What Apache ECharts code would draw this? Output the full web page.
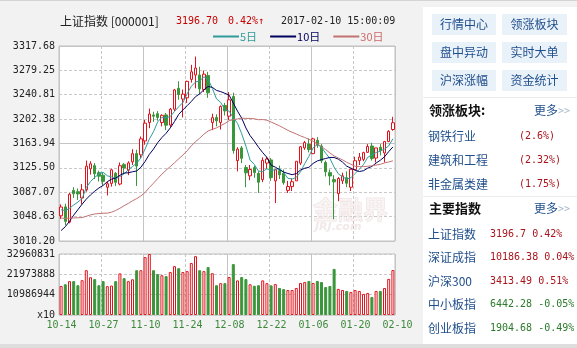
<!DOCTYPE html>
<html><head><meta charset="utf-8">
<script src="https://cdn.jsdelivr.net/npm/echarts/dist/echarts.min.js"></script>
<style>html,body{margin:0;padding:0;background:#f2f2f2}#c{width:577px;height:348px}</style>
</head><body><div id="c"></div>
<script>
const dates = ['2016-10-14','2016-10-17','2016-10-18','2016-10-19','2016-10-20','2016-10-21','2016-10-24','2016-10-25','2016-10-26','2016-10-27','2016-10-28','2016-10-31',
'2016-11-01','2016-11-02','2016-11-03','2016-11-04','2016-11-07','2016-11-08','2016-11-09','2016-11-10','2016-11-11','2016-11-14','2016-11-15','2016-11-16','2016-11-17','2016-11-18','2016-11-21','2016-11-22','2016-11-23','2016-11-24','2016-11-25','2016-11-28','2016-11-29','2016-11-30',
'2016-12-01','2016-12-02','2016-12-05','2016-12-06','2016-12-07','2016-12-08','2016-12-09','2016-12-12','2016-12-13','2016-12-14','2016-12-15','2016-12-16','2016-12-19','2016-12-20','2016-12-21','2016-12-22','2016-12-23','2016-12-26','2016-12-27','2016-12-28','2016-12-29','2016-12-30',
'2017-01-03','2017-01-04','2017-01-05','2017-01-06','2017-01-09','2017-01-10','2017-01-11','2017-01-12','2017-01-13','2017-01-16','2017-01-17','2017-01-18','2017-01-19','2017-01-20','2017-01-23','2017-01-24','2017-01-25','2017-01-26',
'2017-02-03','2017-02-06','2017-02-07','2017-02-08','2017-02-09','2017-02-10'];

const opens = [3050,3064,3040,3090,3088,3078,3091,3124,3129,3118,3114,3095,3101,3117,3100,3131,3122,3135,3148,3146,
3168,3197,3209,3211,3197,3209,3193,3218,3251,3234,3236,3265,3272,3272,3249,3271,3197,3205,3197,3224,
3207,3238,3137,3157,3126,3113,3126,3117,3107,3133,3138,3105,3121,3117,3090,3096,3105,3133,3157,3163,
3148,3169,3160,3134,3118,3107,3085,3105,3110,3095,3123,3137,3139,3150,3160,3141,3158,3149,3167,3186];
const closes = [3063.81,3041.17,3083.88,3084.72,3084.46,3090.94,3128.25,3131.94,3116.31,3112.35,3104.27,3100.49,3122.44,3102.72,3128.94,3125.32,3133.33,3147.89,3128.37,3171.28,
3196.04,3210.37,3206.99,3205.06,3208.45,3192.86,3218.15,3248.35,3241.14,3241.74,3261.94,3277.00,3282.92,3250.03,3273.31,3243.84,3204.71,3199.65,3222.24,3215.37,
3232.88,3152.97,3155.04,3140.53,3117.68,3122.98,3118.08,3102.88,3137.43,3139.56,3110.15,3122.57,3114.66,3102.24,3096.10,3103.64,3135.92,3158.79,3165.41,3154.32,
3171.24,3161.67,3136.75,3119.29,3112.76,3103.43,3108.77,3113.01,3101.30,3123.14,3136.77,3142.55,3149.55,3159.17,3140.17,3156.98,3153.09,3166.98,3183.18,3196.70];
const lows = [3045,3035,3038,3078,3075,3068,3088,3115,3108,3104,3098,3082,3096,3097,3098,3117,3114,3130,3097,3141,
3162,3188,3198,3200,3191,3185,3190,3215,3233,3205,3228,3260,3251,3242,3245,3236,3185,3191,3186,3208,
3201,3148,3120,3133,3095,3106,3110,3086,3103,3124,3105,3070,3108,3099,3086,3089,3105,3130,3154,3150,
3147,3157,3133,3112,3098,3044.5,3073,3100,3095,3089,3123,3130,3136,3149,3137,3134,3145,3134,3166,3184];
const highs = [3068,3069,3086,3095,3093,3100,3137,3136,3133,3121,3119,3104,3124,3119,3134,3133,3136,3155,3154,3175,
3201,3219,3214,3215,3210,3212,3220,3250,3262,3249,3263,3288,3301,3285,3279,3277,3211,3210,3224,3228,
3245,3244,3158,3160,3130,3130,3129,3120,3142,3143,3141,3124,3129,3123,3105,3109,3136,3160,3168,3172,
3173,3174,3163,3137,3123,3114,3111,3118,3120,3124,3143,3149,3151,3163,3165,3157,3163,3168,3185,3206];
const volumes = [15700000,16600000,18300000,18300000,16100000,18800000,24200000,20400000,19400000,16100000,18300000,15600000,15900000,18300000,22500000,19900000,18300000,19300000,24200000,24200000,
31300000,32960831,24200000,22100000,21500000,21000000,23200000,26400000,25300000,23200000,23700000,28100000,31800000,24200000,23700000,25900000,22600000,16100000,17200000,17200000,
20500000,27500000,18700000,20500000,19400000,16600000,15800000,16100000,18700000,17200000,16000000,16700000,14600000,14000000,13500000,13500000,14600000,17300000,17800000,18400000,
17300000,18400000,17800000,15100000,15700000,24900000,14100000,13500000,13000000,12400000,13500000,13000000,11400000,11900000,9700000,13000000,13000000,14600000,19500000,24300000];
const ma5 = [3059.41,3058.02,3061.74,3066.99,3071.61,3077.03,3094.45,3104.06,3110.38,3115.96,3118.62,3113.07,3111.17,3108.45,3111.77,3115.98,3122.55,3127.64,3132.77,3141.24,
3155.38,3170.79,3182.61,3197.95,3205.38,3204.75,3206.30,3214.57,3221.79,3228.45,3242.26,3254.03,3260.95,3262.73,3269.04,3265.42,3250.96,3234.31,3228.75,3217.16,
3214.97,3204.62,3195.70,3179.36,3159.82,3137.84,3130.86,3120.43,3119.81,3124.19,3121.62,3122.52,3124.87,3117.84,3109.14,3107.84,3110.51,3119.34,3131.97,3143.62,
3157.14,3162.29,3157.88,3148.65,3140.34,3126.78,3116.20,3111.45,3107.85,3109.93,3116.60,3123.35,3130.66,3142.24,3145.64,3149.68,3151.79,3155.28,3160.08,3171.39];
const ma10 = [3026.67,3032.74,3041.31,3051.00,3059.60,3068.22,3076.23,3082.90,3088.68,3093.78,3097.83,3103.76,3107.62,3109.42,3113.87,3117.30,3117.81,3119.41,3120.61,3126.51,
3135.68,3146.67,3155.13,3165.36,3173.31,3180.06,3188.55,3198.59,3209.87,3216.92,3223.51,3230.17,3237.76,3242.26,3248.74,3253.84,3252.50,3247.63,3245.74,3243.10,
3240.20,3227.79,3215.00,3204.05,3188.49,3176.41,3167.74,3158.07,3149.58,3142.00,3129.73,3126.69,3122.65,3118.82,3116.67,3114.73,3116.52,3122.11,3124.90,3126.38,
3132.49,3136.40,3138.61,3140.31,3141.98,3141.96,3139.24,3134.67,3128.25,3125.14,3121.69,3119.78,3121.06,3125.05,3127.79,3133.14,3137.57,3142.97,3151.16,3158.51];
const ma30 = [3046.51,3045.60,3046.05,3046.54,3046.87,3047.05,3049.22,3051.37,3052.84,3053.56,3053.98,3054.13,3055.58,3058.27,3061.79,3065.87,3069.44,3073.61,3077.02,3081.32,
3086.73,3094.39,3101.35,3108.59,3115.59,3121.86,3127.53,3133.63,3139.72,3145.73,3152.34,3160.20,3166.83,3172.34,3178.64,3183.74,3186.29,3188.54,3192.07,3195.51,
3199.79,3201.54,3202.63,3203.89,3203.52,3203.44,3202.93,3201.43,3201.73,3200.67,3197.81,3194.88,3191.81,3188.38,3184.63,3181.66,3178.92,3175.93,3173.41,3170.49,
3167.47,3163.63,3158.75,3154.40,3149.05,3144.36,3141.17,3138.28,3134.25,3131.17,3127.97,3127.62,3127.44,3128.06,3128.81,3129.94,3131.11,3133.25,3134.77,3136.68];

const yTicks = ['3010.20','3048.63','3087.07','3125.50','3163.94','3202.38','3240.81','3279.25','3317.68'];
const volTicks = ['x10','10986944','21973888','32960831'];
const xTicks = ['10-14','10-27','11-10','11-24','12-08','12-22','01-06','01-20','02-10'];

const panelButtons = [['行情中心','领涨板块'],['盘中异动','实时大单'],['沪深涨幅','资金统计']];
const sectorNames = ['钢铁行业','建筑和工程','非金属类建'];
const sectorPcts = ['(2.6%)','(2.32%)','(1.75%)'];
const indexNames = ['上证指数','深证成指','沪深300','中小板指','创业板指'];
const indexValues = ['3196.7 0.42%','10186.38 0.04%','3413.49 0.51%','6442.28 -0.05%','1904.68 -0.49%'];

const RED = '#e0141e', GREEN = '#3a963a';
const MONO = '"DejaVu Sans Mono", monospace';
const CJK = '"Noto Sans CJK SC", sans-serif';

const yMin = parseFloat(yTicks[0]), yMax = parseFloat(yTicks[yTicks.length-1]);
const yInt = (yMax - yMin) / (yTicks.length - 1);
const vMax = parseFloat(volTicks[volTicks.length-1]);
const vInt = vMax / (volTicks.length - 1);
const n = dates.length;

const kData = dates.map((d,i) => [opens[i], closes[i], lows[i], highs[i]]);
const volData = volumes.map((v,i) => {
  const up = closes[i] >= opens[i];
  return {value: v, itemStyle: up ? {color:'#ffffff', borderColor: RED, borderWidth: 1} : {color: GREEN, borderColor: GREEN, borderWidth: 1}};
});

const chart = echarts.init(document.getElementById('c'), null, {renderer:'canvas'});

const dashed = {show:true, lineStyle:{color:'#c8c8c8', type:[3,2], width:1}};
const solid = {show:true, lineStyle:{color:'#c4c4c4', type:'solid', width:1}};
const hiddenAxisBits = {axisLine:{show:false}, axisTick:{show:false}};

const els = [];
els.push({type:'rect', shape:{x:0,y:0,width:577,height:1}, style:{fill:'#d4d4d4'}, silent:true});
els.push({type:'rect', shape:{x:0,y:344,width:577,height:4}, style:{fill:'#dedede'}, silent:true});
els.push({type:'text', x:60, y:21, style:{text:'上证指数 [000001]', fill:'#222', font:'12px '+CJK, textVerticalAlign:'middle'}});
els.push({type:'text', x:176, y:21, style:{text:'3196.70', fill:'#c40000', font:'10px '+MONO, textVerticalAlign:'middle'}});
els.push({type:'text', x:228, y:21, style:{text:'0.42%↑', fill:'#c40000', font:'10px '+MONO, textVerticalAlign:'middle'}});
els.push({type:'text', x:281, y:21, style:{text:'2017-02-10 15:00:09', fill:'#222', font:'10px '+MONO, textVerticalAlign:'middle'}});
// watermark
els.push({type:'text', x:313, y:197, z:1, silent:true, style:{text:'金融界', fill:'rgba(245,236,236,0.5)', stroke:'rgba(215,190,190,0.35)', lineWidth:1, font:'bold 25px '+CJK}});
els.push({type:'text', x:315, y:222, z:1, silent:true, style:{text:'JRJ.com', fill:'rgba(225,205,205,0.45)', font:'italic bold 11px "DejaVu Sans", sans-serif'}});
// right panel
els.push({type:'rect', shape:{x:423,y:7,width:154,height:337}, style:{fill:'#ffffff'}, silent:true});
panelButtons.forEach((row, r) => {
  row.forEach((t, c) => {
    const bx = c === 0 ? 432 : 502, by = 14 + r*28, bw = c === 0 ? 64 : 65;
    els.push({type:'rect', shape:{x:bx, y:by, width:bw, height:21}, style:{fill:'#e9f1f9'}});
    els.push({type:'text', x:bx+bw/2, y:by+10.5, style:{text:t, fill:'#1f4e8c', font:'12px '+CJK, textAlign:'center', textVerticalAlign:'middle'}});
  });
});
els.push({type:'rect', shape:{x:423,y:97,width:154,height:1}, style:{fill:'#ececec'}});
els.push({type:'text', x:429, y:110, style:{text:'领涨板块:', fill:'#111', font:'bold 13px '+CJK, textVerticalAlign:'middle'}});
els.push({type:'text', x:534, y:110, style:{text:'更多', fill:'#1f4e8c', font:'12px '+CJK, textVerticalAlign:'middle'}});
els.push({type:'text', x:558, y:111, style:{text:'>>', fill:'#a8b8cc', font:'10px '+MONO, textVerticalAlign:'middle'}});
sectorNames.forEach((t,i) => {
  const yy = 136 + i*24;
  els.push({type:'text', x:428, y:yy, style:{text:t, fill:'#1f4e8c', font:'12px '+CJK, textVerticalAlign:'middle'}});
  els.push({type:'text', x:519, y:yy, style:{text:sectorPcts[i], fill:'#a8141c', font:'10px '+MONO, textVerticalAlign:'middle'}});
});
els.push({type:'rect', shape:{x:423,y:196,width:154,height:1}, style:{fill:'#ececec'}});
els.push({type:'text', x:429, y:208, style:{text:'主要指数', fill:'#111', font:'bold 13px '+CJK, textVerticalAlign:'middle'}});
els.push({type:'text', x:534, y:208, style:{text:'更多', fill:'#1f4e8c', font:'12px '+CJK, textVerticalAlign:'middle'}});
els.push({type:'text', x:558, y:209, style:{text:'>>', fill:'#a8b8cc', font:'10px '+MONO, textVerticalAlign:'middle'}});
indexNames.forEach((t,i) => {
  const yy = 234 + i*23.5;
  const neg = indexValues[i].indexOf('-') >= 0;
  els.push({type:'text', x:428, y:yy, style:{text:t, fill:'#1f4e8c', font:'12px '+CJK, textVerticalAlign:'middle'}});
  els.push({type:'text', x:490, y:yy, style:{text:indexValues[i], fill: neg ? '#2a7a2a' : '#a8141c', font:'10px '+MONO, textVerticalAlign:'middle'}});
});

const option = {
  animation: false,
  backgroundColor: '#f2f2f2',
  legend: {
    left: 213, top: 31, icon: 'rect', itemWidth: 26, itemHeight: 2, itemGap: 13, padding: 0,
    selectedMode: false,
    textStyle: {fontSize: 11, fontFamily: CJK, padding: [0,0,0,-4]},
    data: [
      {name:'5日', textStyle:{color:'#2f9c9a'}},
      {name:'10日', textStyle:{color:'#00005e'}},
      {name:'30日', textStyle:{color:'#d06a6a'}}
    ]
  },
  grid: [
    {left:59, top:46, width:336, height:195, show:true, backgroundColor:'#ffffff', borderColor:'#c0c0c0', borderWidth:1, containLabel:false, outerBoundsMode:'none'},
    {left:59, top:254, width:336, height:61, show:true, backgroundColor:'#ffffff', borderColor:'#c0c0c0', borderWidth:1, containLabel:false, outerBoundsMode:'none'}
  ],
  xAxis: [
    {type:'category', gridIndex:0, position:'bottom', data:dates, boundaryGap:true, axisLine:{show:false}, axisTick:{show:false}, axisLabel:{show:false}, splitLine:{show:false}},
    {type:'value', gridIndex:0, position:'bottom', min:0, max:n, interval:10, ...hiddenAxisBits, axisLabel:{show:false}, splitLine:dashed},
    {type:'value', gridIndex:0, position:'top', min:0, max:n, interval:20, ...hiddenAxisBits, axisLabel:{show:false}, splitLine:solid},
    {type:'category', gridIndex:1, position:'top', data:dates, boundaryGap:true, axisLine:{show:false}, axisTick:{show:false}, axisLabel:{show:false}, splitLine:{show:false}},
    {type:'value', gridIndex:1, position:'bottom', offset:0, min:0, max:n, interval:10, ...hiddenAxisBits, splitLine:dashed,
      axisLabel:{show:true, showMinLabel:true, showMaxLabel:true, hideOverlap:false, color:'#3d8a3d', fontFamily:MONO, fontSize:10, margin:5, padding:[0,0,0,5],
        formatter: v => xTicks[Math.round(v/10)] || ''}},
    {type:'value', gridIndex:1, position:'top', min:0, max:n, interval:20, ...hiddenAxisBits, axisLabel:{show:false}, splitLine:solid}
  ],
  yAxis: [
    {type:'value', gridIndex:0, position:'left', min:yMin, max:yMax, interval:yInt, ...hiddenAxisBits, splitLine:dashed,
      axisLabel:{show:true, showMinLabel:true, showMaxLabel:true, color:'#222', fontFamily:MONO, fontSize:10, margin:4,
        formatter: v => yTicks[Math.round((v - yMin)/yInt)] || ''}},
    {type:'value', gridIndex:0, position:'right', min:yMin, max:yMax, interval:yInt*4, ...hiddenAxisBits, axisLabel:{show:false}, splitLine:solid},
    {type:'value', gridIndex:1, position:'left', min:0, max:vMax, interval:vInt, ...hiddenAxisBits, splitLine:dashed,
      axisLabel:{show:true, showMinLabel:true, showMaxLabel:true, color:'#222', fontFamily:MONO, fontSize:10, margin:4,
        formatter: v => volTicks[Math.round(v / vInt)] || ''}}
  ],
  series: [
    {type:'candlestick', name:'K', xAxisIndex:0, yAxisIndex:0, data:kData, barWidth:3, z:3,
      itemStyle:{color:'#ffffff', color0:GREEN, borderColor:RED, borderColor0:GREEN, borderWidth:1}},
    {type:'line', name:'5日', xAxisIndex:0, yAxisIndex:0, data:ma5, symbol:'none', z:4, color:'#2f9c9a', lineStyle:{width:1, color:'#2f9c9a'}},
    {type:'line', name:'10日', xAxisIndex:0, yAxisIndex:0, data:ma10, symbol:'none', z:4, color:'#00005e', lineStyle:{width:1, color:'#00005e'}},
    {type:'line', name:'30日', xAxisIndex:0, yAxisIndex:0, data:ma30, symbol:'none', z:4, color:'#c47272', lineStyle:{width:1, color:'#c47272'}},
    {type:'bar', name:'VOL', xAxisIndex:3, yAxisIndex:2, data:volData, barWidth:3, z:3}
  ],
  graphic: {elements: els}
};
chart.setOption(option);
</script></body></html>
